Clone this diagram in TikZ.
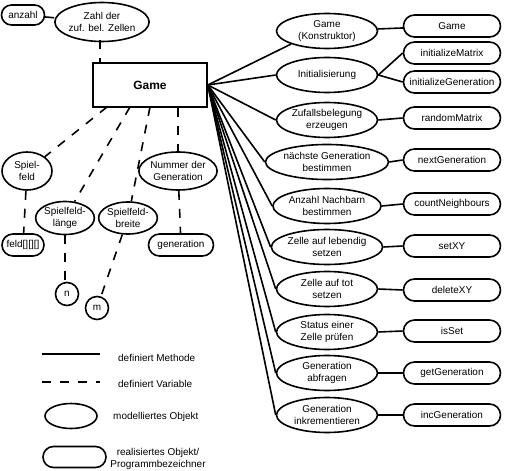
\documentclass[tikz,border=0pt]{standalone}
\usepackage{fontspec}
\setmainfont{Liberation Sans}
\usetikzlibrary{shapes.geometric,shapes.misc}
\begin{document}
\begin{tikzpicture}[x=1bp,y=-1bp,
  every node/.style={font=\fontsize{10}{11.5}\selectfont, text=black},
  obj/.style={ellipse, draw, line width=1.6bp, fill=white, inner sep=0pt, align=center},
  real/.style={rounded rectangle, draw, line width=1.6bp, fill=white, inner sep=0pt, align=center, minimum height=22bp},
  meth/.style={obj, minimum width=101bp, minimum height=35bp},
  prog/.style={real, minimum width=97bp},
  var/.style={line width=1.6bp, dash pattern=on 9bp off 9bp},
  mline/.style={line width=1.6bp},
  ring/.style={circle, draw, line width=1.6bp, fill=white, inner sep=0pt, minimum size=23bp},
  lbl/.style={inner sep=0pt, align=center}
]
\useasboundingbox (0,0) rectangle (506,471);

% central class
\node[draw, line width=1.6bp, fill=white, minimum width=114bp, minimum height=44bp, inner sep=0pt,
      font=\fontsize{12}{14}\selectfont\bfseries] (game) at (150,85) {Game};

% variables (left)
\node[real, minimum width=43bp, minimum height=20bp] (anzahl) at (23,15) {anzahl};
\node[obj, minimum width=80bp, minimum height=39bp] (zahl) at (102,22) {Zahl der\\zuf. bel. Zellen};
\node[obj, minimum width=50bp, minimum height=38bp] (spielfeld) at (27,171) {Spiel-\\feld};
\node[obj, minimum width=56bp, minimum height=33bp] (laenge) at (65,218) {Spielfeld-\\länge};
\node[obj, minimum width=58bp, minimum height=32bp] (breite) at (128,218) {Spielfeld-\\breite};
\node[obj, minimum width=71bp, minimum height=38bp] (nummer) at (178,171) {Nummer der\\Generation};
\node[real, minimum width=42bp] (feld) at (23,245) {feld[][][]};
\node[real, minimum width=65bp] (generation) at (181,245) {generation};
\node[ring] (n) at (67,294) {n};
\node[ring] (m) at (97,308) {m};

\coordinate (zb) at (100,40);
\coordinate (gt) at (100,63);
\draw[var] (anzahl) -- (zahl);
\draw[var] (zb) -- (gt);
\draw[var] (107,107) -- (spielfeld);
\draw[var] (130,107) -- (laenge);
\draw[var] (150,107) -- (breite);
\draw[var] (nummer.north |- game.south) -- (nummer);
\draw[var] (spielfeld) -- (feld);
\draw[var] (laenge) -- (laenge.south |- n.north);
\draw[var] (breite) -- (m);
\draw[var] (nummer) -- (generation);

% methods (right)
\node[meth] (e1) at (327,31) {Game\\(Konstruktor)};
\node[meth] (e2) at (327,75) {Initialisierung};
\node[meth] (e3) at (327,120) {Zufallsbelegung\\erzeugen};
\node[meth] (e4) at (327,162) {nächste Generation\\bestimmen};
\node[meth] (e5) at (327,206) {Anzahl Nachbarn\\bestimmen};
\node[meth] (e6) at (327,247) {Zelle auf lebendig\\setzen};
\node[meth] (e7) at (327,289) {Zelle auf tot\\setzen};
\node[meth] (e8) at (327,332) {Status einer\\Zelle prüfen};
\node[meth] (e9) at (327,373) {Generation\\abfragen};
\node[meth] (e10) at (327,415) {Generation\\inkrementieren};

\node[prog] (p1) at (452,26) {Game};
\node[prog] (p2a) at (452,53) {initializeMatrix};
\node[prog] (p2b) at (452,82) {initializeGeneration};
\node[prog] (p3) at (452,118) {randomMatrix};
\node[prog] (p4) at (452,160) {nextGeneration};
\node[prog] (p5) at (452,204) {countNeighbours};
\node[prog] (p6) at (452,246) {setXY};
\node[prog] (p7) at (452,290) {deleteXY};
\node[prog] (p8) at (452,331) {isSet};
\node[prog] (p9) at (452,373) {getGeneration};
\node[prog] (p10) at (452,415) {incGeneration};

\draw[mline] (game.east) -- (e1.200);
\foreach \i in {2,...,10} {
  \draw[mline] (game.east) -- (e\i.west);
}
\draw[mline] (e1) -- (p1);
\draw[mline] (e2.east) -- (p2a.west);
\draw[mline] (e2.east) -- (p2b.west);
\foreach \i in {3,...,10} {
  \draw[mline] (e\i.east) -- (p\i.west);
}

% legend
\coordinate (la1) at (42,354);
\coordinate (lb1) at (100,354);
\coordinate (la2) at (42,382);
\coordinate (lb2) at (100,382);
\draw[mline] (la1) -- (lb1);
\draw[var] (la2) -- (lb2);
\node[lbl, anchor=west] (t1) at (118,358) {definiert Methode};
\node[lbl, anchor=west] (t2) at (118,384) {definiert Variable};
\node[obj, minimum width=52bp, minimum height=25bp] (le) at (71,416) {};
\node[lbl, anchor=west] (t3) at (113,417) {modelliertes Objekt};
\node[real, minimum width=63bp, minimum height=21bp] (lr) at (74.5,457) {};
\node[lbl] (t4) at (158,459) {realisiertes Objekt/\\Programmbezeichner};
\end{tikzpicture}
\end{document}
